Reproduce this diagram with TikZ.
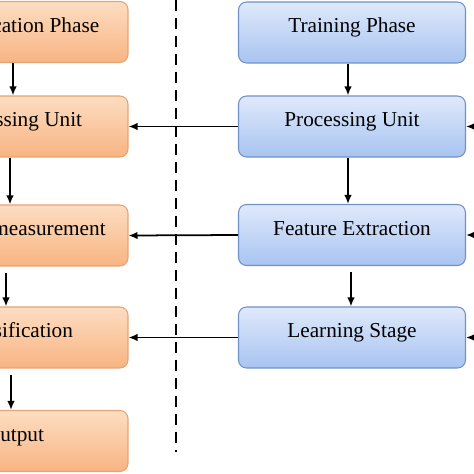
\documentclass[tikz,border=0pt]{standalone}
\usepackage{fontspec}
\setmainfont{Liberation Serif}
\usepackage{tikz}
\usetikzlibrary{arrows.meta}

\definecolor{orangetop}{HTML}{FDDDC2}
\definecolor{orangebot}{HTML}{F8B482}
\definecolor{orangeline}{HTML}{E5A473}
\definecolor{bluetop}{HTML}{DFE9FB}
\definecolor{bluebot}{HTML}{A8C4F1}
\definecolor{blueline}{HTML}{7090C8}

\begin{document}
\begin{tikzpicture}[x=0.02cm,y=-0.02cm,
  phase/.style={rectangle,rounded corners=0.16cm,minimum width=4.54cm,minimum height=1.22cm,
    text height=0.25cm,text depth=0.25cm,font=\fontsize{12.1}{14}\selectfont,line width=0.6pt},
  testbox/.style={phase,draw=orangeline,top color=orangetop,bottom color=orangebot},
  trainbox/.style={phase,draw=blueline,top color=bluetop,bottom color=bluebot},
  flow/.style={-{Latex[length=0.18cm,width=0.15cm]},line width=1pt}]
  \useasboundingbox (0,0) rectangle (474,474);
  \clip (0,0) rectangle (474,474);

  % testing side, cut at the left
  \node[testbox] (testphase) at (14.5,32) {Identification Phase};
  \node[testbox] (testproc) at (14.5,126.5) {Processing Unit};
  \node[testbox] (testmeas) at (14.5,235.5) {Feature measurement};
  \node[testbox] (testclass) at (14.5,337.5) {Classification};
  \node[testbox] (testout) at (14.5,441) {Output};

  % training side
  \node[trainbox] (trainphase) at (352,32.5) {Training Phase};
  \node[trainbox] (trainproc) at (352,126.5) {Processing Unit};
  \node[trainbox] (trainfeat) at (352,235) {Feature Extraction};
  \node[trainbox] (trainlearn) at (352,337.5) {Learning Stage};

  \draw[dash pattern=on 0.22cm off 0.14cm,line width=1.3pt] (175.7,0) -- (175.7,452);

  \draw[flow] ([xshift=-0.03cm]testphase.south) -- ([xshift=-0.03cm]testproc.north);
  \draw[flow] ([xshift=-0.09cm]testproc.south) -- ([xshift=-0.09cm]testmeas.north);
  \draw[flow] ([xshift=-0.17cm,yshift=-0.12cm]testmeas.south) -- ([xshift=-0.17cm]testclass.north);
  \draw[flow] ([xshift=-0.07cm,yshift=-0.12cm]testclass.south) -- ([xshift=-0.07cm]testout.north);

  \draw[flow] ([xshift=-0.08cm]trainphase.south) -- ([xshift=-0.08cm]trainproc.north);
  \draw[flow] ([xshift=-0.08cm]trainproc.south) -- ([xshift=-0.08cm]trainfeat.north);
  \draw[flow] ([xshift=-0.02cm,yshift=-0.12cm]trainfeat.south) -- ([xshift=-0.02cm]trainlearn.north);

  \draw[flow] (trainproc.west) -- (testproc.east);
  \draw[flow] (trainfeat.west) -- (testmeas.east);
  \draw[flow] (trainlearn.west) -- (testclass.east);

  \coordinate (inproc) at (520,126.5);
  \coordinate (infeat) at (520,235);
  \coordinate (inlearn) at (520,337.5);
  \draw[flow] (inproc) -- (trainproc.east);
  \draw[flow] (infeat) -- (trainfeat.east);
  \draw[flow] (inlearn) -- (trainlearn.east);
\end{tikzpicture}
\end{document}
